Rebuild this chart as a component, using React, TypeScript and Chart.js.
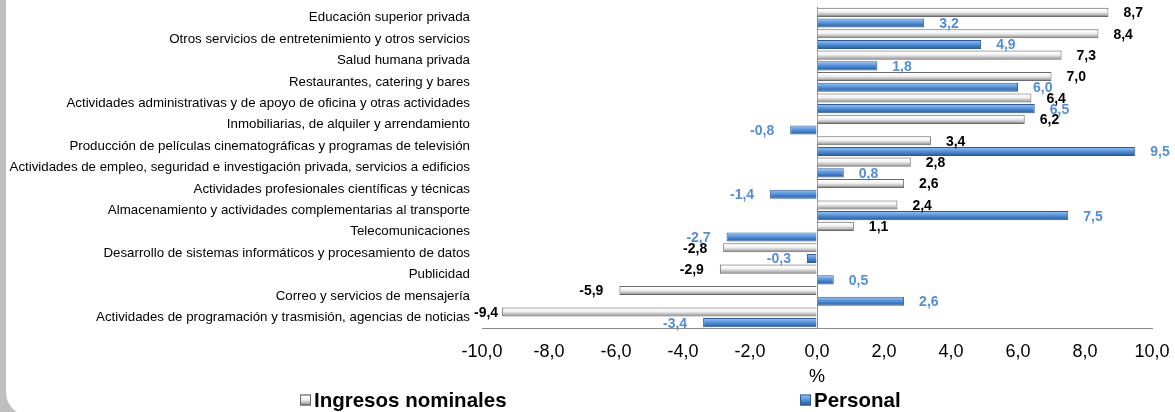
import React, { useEffect, useRef } from 'react';
import { Chart, registerables } from 'chart.js';

Chart.register(...registerables);

const FONT = "'Liberation Sans', Arial, Helvetica, sans-serif";

const categories = [
  'Educación superior privada',
  'Otros servicios de entretenimiento y otros servicios',
  'Salud humana privada',
  'Restaurantes, catering y bares',
  'Actividades administrativas y de apoyo de oficina y otras actividades',
  'Inmobiliarias, de alquiler y arrendamiento',
  'Producción de películas cinematográficas y programas de televisión',
  'Actividades de empleo, seguridad e investigación privada, servicios a edificios',
  'Actividades profesionales científicas y técnicas',
  'Almacenamiento y actividades complementarias al transporte',
  'Telecomunicaciones',
  'Desarrollo de sistemas informáticos y procesamiento de datos',
  'Publicidad',
  'Correo y servicios de mensajería',
  'Actividades de programación y trasmisión, agencias de noticias',
];

const ingresosNominales = [8.7, 8.4, 7.3, 7.0, 6.4, 6.2, 3.4, 2.8, 2.6, 2.4, 1.1, -2.8, -2.9, -5.9, -9.4];
const personal = [3.2, 4.9, 1.8, 6.0, 6.5, -0.8, 9.5, 0.8, -1.4, 7.5, -2.7, -0.3, 0.5, 2.6, -3.4];

const seriesNames = ['Ingresos nominales', 'Personal'];
const axisTitle = '%';
const xMin = -10;
const xMax = 10;
const xStep = 2;

const labelColors = ['#000000', '#558ed5'];
const borderColors = ['#6a6a6a', '#2f5b93'];
const legendX = [300, 800];

const CAT_PCT = 1.0;
const BAR_PCT = 0.85;

const fmt = (v: number) => Number(v).toFixed(1).replace('.', ',');

function makeGradient(ctx: CanvasRenderingContext2D, di: number, y0: number, y1: number) {
  const g = ctx.createLinearGradient(0, y0, 0, y1);
  if (di === 0) {
    g.addColorStop(0, '#a8a8a8');
    g.addColorStop(0.15, '#ffffff');
    g.addColorStop(0.45, '#f2f2f2');
    g.addColorStop(0.75, '#bcbcbc');
    g.addColorStop(1, '#6a6a6a');
  } else {
    g.addColorStop(0, '#a9c8ee');
    g.addColorStop(0.2, '#7fb0ea');
    g.addColorStop(0.55, '#4c8ad6');
    g.addColorStop(1, '#2a5790');
  }
  return g;
}

function barFill(di: number) {
  return (c: any) => {
    const chart = c.chart;
    const fallback = di === 0 ? '#d9d9d9' : '#4a86d0';
    if (c.type !== 'data' || !chart.chartArea || !chart.scales.y) return fallback;
    const ys = chart.scales.y;
    const band = ys.height / categories.length;
    const yc = ys.getPixelForValue(c.dataIndex);
    const slot = (band * CAT_PCT) / 2;
    const thick = slot * BAR_PCT;
    const center = yc + (di === 0 ? -slot / 2 : slot / 2);
    return makeGradient(chart.ctx, di, center - thick / 2, center + thick / 2);
  };
}

const barLabelPlugin = {
  id: 'barLabels',
  afterDatasetsDraw(chart: any) {
    const { ctx, chartArea } = chart;
    ctx.save();
    ctx.font = `bold 14px ${FONT}`;
    ctx.textBaseline = 'middle';
    chart.data.datasets.forEach((ds: any, di: number) => {
      const meta = chart.getDatasetMeta(di);
      ctx.fillStyle = labelColors[di];
      meta.data.forEach((bar: any, i: number) => {
        const v = ds.data[i] as number;
        const text = fmt(v);
        const w = ctx.measureText(text).width;
        const { x, y } = bar.getProps(['x', 'y'], true);
        if (v >= 0) {
          ctx.textAlign = 'left';
          ctx.fillText(text, x + 15, y + 1);
        } else {
          ctx.textAlign = 'right';
          const xr = Math.max(x - 16, chartArea.left - 8 + w);
          ctx.fillText(text, xr, y + 1);
        }
      });
    });
    ctx.restore();
  },
};

const legendPlugin = {
  id: 'customLegend',
  afterDraw(chart: any) {
    const { ctx } = chart;
    const y = 400;
    ctx.save();
    chart.data.datasets.forEach((ds: any, di: number) => {
      const x = legendX[di];
      const s = 11;
      ctx.fillStyle = makeGradient(ctx, di, y - s / 2, y + s / 2);
      ctx.fillRect(x, y - s / 2, s, s);
      ctx.strokeStyle = borderColors[di];
      ctx.lineWidth = 1;
      ctx.strokeRect(x + 0.5, y - s / 2 + 0.5, s - 1, s - 1);
      ctx.fillStyle = '#000000';
      ctx.font = `bold 20.5px ${FONT}`;
      ctx.textAlign = 'left';
      ctx.textBaseline = 'middle';
      ctx.fillText(ds.label, x + 14, y + 1);
    });
    ctx.restore();
  },
};

export default function App() {
  const canvasRef = useRef<HTMLCanvasElement | null>(null);

  useEffect(() => {
    if (!canvasRef.current) return;
    const chart = new Chart(canvasRef.current, {
      type: 'bar',
      data: {
        labels: categories,
        datasets: [
          {
            label: seriesNames[0],
            data: ingresosNominales,
            backgroundColor: barFill(0),
            borderColor: borderColors[0],
            borderWidth: 1,
            categoryPercentage: CAT_PCT,
            barPercentage: BAR_PCT,
          },
          {
            label: seriesNames[1],
            data: personal,
            backgroundColor: barFill(1),
            borderColor: borderColors[1],
            borderWidth: 1,
            categoryPercentage: CAT_PCT,
            barPercentage: BAR_PCT,
          },
        ],
      },
      options: {
        indexAxis: 'y',
        responsive: false,
        animation: false,
        layout: { padding: { left: 0, right: 23, top: 7, bottom: 24 } },
        plugins: {
          legend: { display: false },
          tooltip: { enabled: false },
        },
        scales: {
          x: {
            min: xMin,
            max: xMax,
            ticks: {
              stepSize: xStep,
              callback: (v: any) => fmt(Number(v)),
              font: { size: 18, family: FONT },
              color: '#000000',
              padding: 13,
              maxRotation: 0,
              autoSkip: false,
            },
            grid: {
              drawTicks: false,
              color: (c: any) => (c.tick && c.tick.value === 0 ? '#8c8c8c' : 'rgba(0,0,0,0)'),
              lineWidth: 1,
            },
            border: { display: true, color: '#8c8c8c', width: 1 },
            title: {
              display: true,
              text: axisTitle,
              font: { size: 18, family: FONT },
              color: '#000000',
              padding: { top: 4, bottom: 0 },
            },
            afterFit: (s: any) => {
              s.height = 60;
              s.paddingLeft = 0;
              s.paddingRight = 0;
            },
          },
          y: {
            ticks: {
              font: { size: 13.3, family: FONT },
              color: '#000000',
              padding: 12,
              autoSkip: false,
            },
            grid: { display: false, drawTicks: false },
            border: { display: false },
            afterFit: (s: any) => {
              s.width = 482;
              s.paddingTop = 0;
              s.paddingBottom = 0;
            },
          },
        },
      } as any,
      plugins: [barLabelPlugin, legendPlugin],
    });
    return () => chart.destroy();
  }, []);

  return (
    <div
      style={{
        position: 'fixed',
        left: 0,
        top: 0,
        width: 1175,
        height: 412,
        overflow: 'hidden',
        background: '#bfbfbf',
      }}
    >
      <div
        style={{
          position: 'absolute',
          left: 6,
          top: -40,
          width: 1300,
          height: 456,
          background: '#ffffff',
          borderRadius: 24,
        }}
      />
      <canvas
        ref={canvasRef}
        width={1175}
        height={412}
        style={{ position: 'absolute', left: 0, top: 0, width: 1175, height: 412 }}
      />
    </div>
  );
}
